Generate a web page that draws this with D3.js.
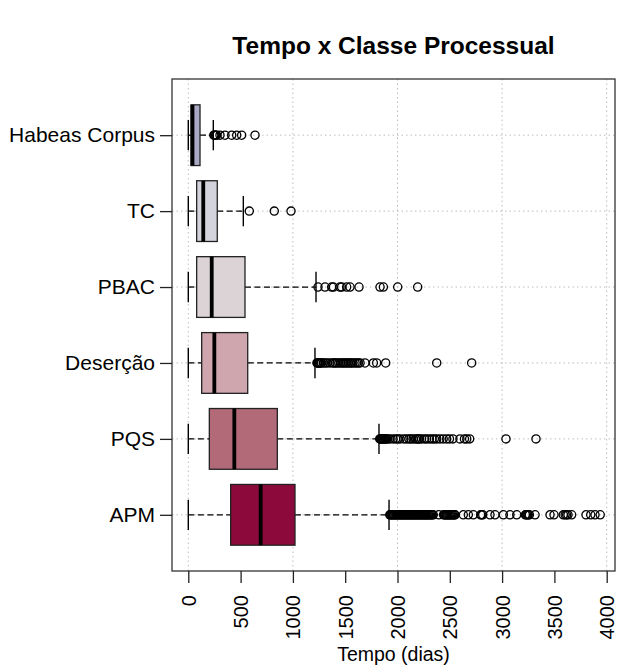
<!DOCTYPE html>
<html>
<head>
<meta charset="utf-8">
<script src="https://cdn.jsdelivr.net/npm/d3@7"></script>
<style>
  body { margin: 0; background: #fff; }
  svg text { font-family: "Liberation Sans", Arial, sans-serif; fill: #000; }
</style>
</head>
<body>
<script>
// classes from bottom (position 1) to top (position 6)
var classes = ["APM", "PQS", "Deserção", "PBAC", "TC", "Habeas Corpus"];
var lowerWhisker = [0, 0, 0, 0, 0, 0];
var q1 = [405, 201, 128, 80, 80, 26];
var medians = [692, 440, 249, 224, 143, 40];
var q3 = [1020, 851, 568, 542, 277, 112];
var upperWhisker = [1919, 1823, 1211, 1221, 526, 239];
var boxColors = ["#8b0a3b", "#b36a78", "#cfa6ae", "#dbd3d6", "#d3d3de", "#a9a9c6"];

var outAPM = [1926, 1933, 1941, 1950, 1958, 1967, 1975, 1984, 1992, 2001, 2010, 2018, 2027,
  2036, 2044, 2053, 2062, 2070, 2079, 2088, 2097, 2105, 2114, 2122, 2131, 2140, 2149, 2157,
  2166, 2175, 2183, 2192, 2201, 2210, 2218, 2227, 2236, 2245, 2254, 2262, 2271, 2280, 2289,
  2298, 2306, 2315, 2324, 2333, 2342, 2395, 2440, 2448, 2457, 2466, 2474, 2483, 2492, 2500,
  2509, 2518, 2527, 2536, 2545, 2550, 2629, 2677, 2725, 2795, 2805, 2815, 2884, 2932, 3012,
  3075, 3140, 3222, 3232, 3241, 3250, 3261, 3315, 3458, 3496, 3585, 3603, 3617, 3630, 3665,
  3802, 3847, 3888, 3938];
var outPQS = [1830, 1837, 1845, 1852, 1860, 1868, 1876, 1885, 1895, 1908, 1928, 1958, 1983,
  2003, 2024, 2060, 2086, 2110, 2128, 2150, 2172, 2188, 2199, 2210, 2230, 2258, 2279, 2305,
  2330, 2352, 2375, 2405, 2437, 2470, 2497, 2530, 2597, 2640, 2662, 2690, 3037, 3324];
var outDesercao = [1230, 1236, 1242, 1250, 1258, 1266, 1275, 1292, 1310, 1330, 1355, 1380,
  1393, 1408, 1422, 1440, 1457, 1472, 1486, 1500, 1515, 1530, 1546, 1560, 1575, 1594, 1610,
  1626, 1642, 1689, 1769, 1801, 1887, 2375, 2709];
var outPBAC = [1240, 1307, 1371, 1387, 1450, 1466, 1514, 1546, 1632, 1833, 1865, 2002, 2193];
var outTC = [583, 822, 982];
var outHC = [244, 250, 256, 263, 271, 303, 351, 415, 463, 510, 638];
var outliers = [outAPM, outPQS, outDesercao, outPBAC, outTC, outHC];

var xTicks = [0, 500, 1000, 1500, 2000, 2500, 3000, 3500, 4000];
var gridX = [0, 1000, 2000, 3000, 4000];

function draw() {
  var W = 617, H = 670;
  var pLeft = 172, pRight = 615, pTop = 79, pBottom = 571;

  var svg = d3.select("body").append("svg")
    .attr("width", W).attr("height", H);
  svg.append("rect").attr("width", W).attr("height", H).attr("fill", "#fff");

  var x = d3.scaleLinear().domain([0, 4000]).range([188.3, 606.7]);
  var y = d3.scaleLinear().domain([0.26, 6.74]).range([pBottom, pTop]);
  var unit = Math.abs(y(1) - y(0));
  var half = 0.4 * unit;     // boxwex 0.8
  var staple = 0.5 * half;   // staplewex 0.5

  // title
  svg.append("text")
    .attr("x", (pLeft + pRight) / 2).attr("y", 54)
    .attr("text-anchor", "middle")
    .style("font-size", "24.5px").style("font-weight", "bold")
    .text("Tempo x Classe Processual");

  // grid
  var grid = svg.append("g")
    .attr("stroke", "#bdbdbd").attr("stroke-width", 1).attr("stroke-dasharray", "1.5,3");
  grid.selectAll("line.gx").data(gridX).enter().append("line")
    .attr("x1", function (d) { return x(d); }).attr("x2", function (d) { return x(d); })
    .attr("y1", pTop).attr("y2", pBottom);
  grid.selectAll("line.gy").data(classes).enter().append("line")
    .attr("x1", pLeft).attr("x2", pRight)
    .attr("y1", function (d, i) { return y(i + 1); })
    .attr("y2", function (d, i) { return y(i + 1); });

  // boxes
  var boxes = svg.selectAll("g.box").data(classes).enter().append("g")
    .attr("class", "box")
    .attr("transform", function (d, i) { return "translate(0," + y(i + 1) + ")"; });

  boxes.append("line") // lower whisker
    .attr("x1", function (d, i) { return x(lowerWhisker[i]); })
    .attr("x2", function (d, i) { return x(q1[i]); })
    .attr("stroke", "#000").attr("stroke-width", 1.3).attr("stroke-dasharray", "6,3.5");
  boxes.append("line") // upper whisker
    .attr("x1", function (d, i) { return x(q3[i]); })
    .attr("x2", function (d, i) { return x(upperWhisker[i]); })
    .attr("stroke", "#000").attr("stroke-width", 1.3).attr("stroke-dasharray", "6,3.5");
  boxes.append("line")
    .attr("x1", function (d, i) { return x(lowerWhisker[i]); })
    .attr("x2", function (d, i) { return x(lowerWhisker[i]); })
    .attr("y1", -staple).attr("y2", staple).attr("stroke", "#000").attr("stroke-width", 1.4);
  boxes.append("line")
    .attr("x1", function (d, i) { return x(upperWhisker[i]); })
    .attr("x2", function (d, i) { return x(upperWhisker[i]); })
    .attr("y1", -staple).attr("y2", staple).attr("stroke", "#000").attr("stroke-width", 1.4);
  boxes.append("rect")
    .attr("x", function (d, i) { return x(q1[i]); })
    .attr("width", function (d, i) { return x(q3[i]) - x(q1[i]); })
    .attr("y", -half).attr("height", 2 * half)
    .attr("fill", function (d, i) { return boxColors[i]; })
    .attr("stroke", "#222").attr("stroke-width", 1.3);
  boxes.append("line")
    .attr("x1", function (d, i) { return x(medians[i]); })
    .attr("x2", function (d, i) { return x(medians[i]); })
    .attr("y1", -half).attr("y2", half)
    .attr("stroke", "#000").attr("stroke-width", 3.8);

  boxes.each(function (d, i) {
    d3.select(this).selectAll("circle").data(outliers[i]).enter().append("circle")
      .attr("cx", function (v) { return x(v); }).attr("cy", 0).attr("r", 4.1)
      .attr("fill", "none").attr("stroke", "#000").attr("stroke-width", 1.3);
  });

  // frame
  svg.append("rect")
    .attr("x", pLeft).attr("y", pTop).attr("width", pRight - pLeft).attr("height", pBottom - pTop)
    .attr("fill", "none").attr("stroke", "#333").attr("stroke-width", 1.3);

  // x axis
  var xAxis = svg.append("g").attr("transform", "translate(0," + pBottom + ")")
    .call(d3.axisBottom(x).tickValues(xTicks).tickSize(12).tickFormat(d3.format("d")));
  xAxis.select(".domain").remove();
  xAxis.selectAll(".tick line").attr("stroke", "#222").attr("stroke-width", 1.3);
  xAxis.selectAll(".tick text")
    .attr("transform", "rotate(-90)")
    .attr("x", -24).attr("y", 0).attr("dy", "0.35em")
    .attr("text-anchor", "end")
    .style("font-size", "20px").style("font-family", "'Liberation Sans', Arial, sans-serif");

  // y axis
  var yAxis = svg.append("g").attr("transform", "translate(" + pLeft + ",0)")
    .call(d3.axisLeft(y).tickValues([1, 2, 3, 4, 5, 6]).tickSize(12).tickPadding(5)
      .tickFormat(function (d) { return classes[d - 1]; }));
  yAxis.select(".domain").remove();
  yAxis.selectAll(".tick line").attr("stroke", "#222").attr("stroke-width", 1.3);
  yAxis.selectAll(".tick text")
    .style("font-size", "21px").style("font-family", "'Liberation Sans', Arial, sans-serif");

  svg.append("text")
    .attr("x", (pLeft + pRight) / 2).attr("y", 661)
    .attr("text-anchor", "middle")
    .style("font-size", "19.5px")
    .text("Tempo (dias)");
}
draw();
</script>
</body>
</html>
